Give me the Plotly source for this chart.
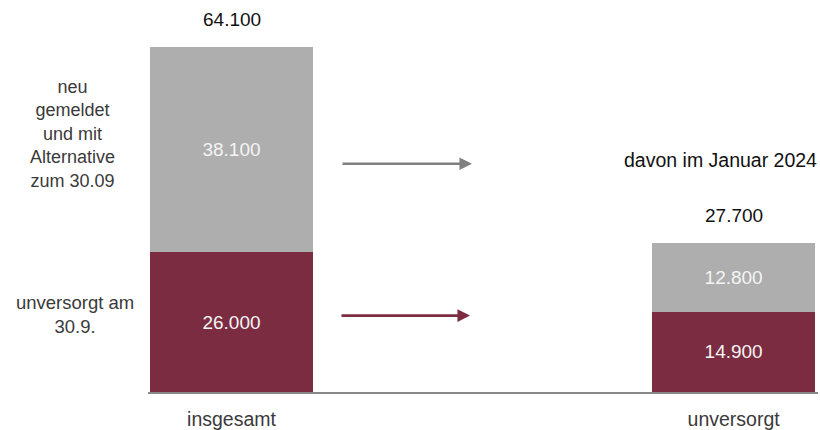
import plotly.graph_objects as go

categories = ["insgesamt", "unversorgt"]
unversorgt_vals = [26000, 14900]
gemeldet_vals = [38100, 12800]
totals = [a + b for a, b in zip(unversorgt_vals, gemeldet_vals)]

left_label_top = "neu<br>gemeldet<br>und mit<br>Alternative<br>zum 30.09"
left_label_bottom = "unversorgt am<br>30.9."
right_title = "davon im Januar 2024"


def de(v):
    return f"{v:,}".replace(",", ".")


RED = "#7C2C41"
GRAY = "#AEAEAE"
FONT = "Liberation Sans, Arial, sans-serif"

fig = go.Figure()
fig.add_trace(go.Bar(
    x=categories, y=unversorgt_vals, marker_color=RED, marker_line_width=0,
    text=[de(v) for v in unversorgt_vals], textposition="inside",
    insidetextanchor="middle", textfont=dict(color="#F4F4F4", size=19, family=FONT),
    hoverinfo="skip",
))
fig.add_trace(go.Bar(
    x=categories, y=gemeldet_vals, marker_color=GRAY, marker_line_width=0,
    text=[de(v) for v in gemeldet_vals], textposition="inside",
    insidetextanchor="middle", textfont=dict(color="#F4F4F4", size=19, family=FONT),
    hoverinfo="skip",
))

ann = []
for c, t in zip(categories, totals):
    ann.append(dict(x=c, y=t, xref="x", yref="y", text=de(t), showarrow=False,
                    yanchor="middle", yshift=28,
                    font=dict(size=19, color="#111111", family=FONT)))

ann += [
    dict(x=-0.112, y=0.658, xref="paper", yref="paper", text=left_label_top,
         showarrow=False, xanchor="center", yanchor="middle", align="center",
         font=dict(size=18, color="#3A3A3A", family=FONT)),
    dict(x=-0.109, y=0.197, xref="paper", yref="paper", text=left_label_bottom,
         showarrow=False, xanchor="center", yanchor="middle", align="center",
         font=dict(size=18.5, color="#3A3A3A", family=FONT)),
    dict(x=0.854, y=0.592, xref="paper", yref="paper", text=right_title,
         showarrow=False, xanchor="center", yanchor="middle",
         font=dict(size=19.5, color="#111111", family=FONT)),
    dict(x=0.4836, y=0.5823, xref="paper", yref="paper", text="", showarrow=True,
         ax=-131, ay=0, arrowhead=2, arrowwidth=2.7, arrowsize=0.93,
         arrowcolor="#808080", standoff=0),
    dict(x=0.4806, y=0.1949, xref="paper", yref="paper", text="", showarrow=True,
         ax=-130, ay=0, arrowhead=2, arrowwidth=2.7, arrowsize=0.93,
         arrowcolor=RED, standoff=0),
]

fig.update_layout(
    barmode="stack", bargap=0.675, showlegend=False,
    width=820, height=430,
    margin=dict(l=148, r=2, t=0, b=35),
    paper_bgcolor="white", plot_bgcolor="white",
    font=dict(family=FONT, size=19, color="#3A3A3A"),
    annotations=ann,
    uniformtext=dict(mode=False),
)
fig.update_xaxes(
    range=[-0.1663, 1.168], showline=True, linecolor="#888888", linewidth=2,
    showgrid=False, ticks="", tickfont=dict(size=19.5, color="#3A3A3A", family=FONT),
    ticklabelstandoff=9,
)
fig.update_yaxes(range=[0, 72880], visible=False, showgrid=False)

fig.write_html("out.html")
